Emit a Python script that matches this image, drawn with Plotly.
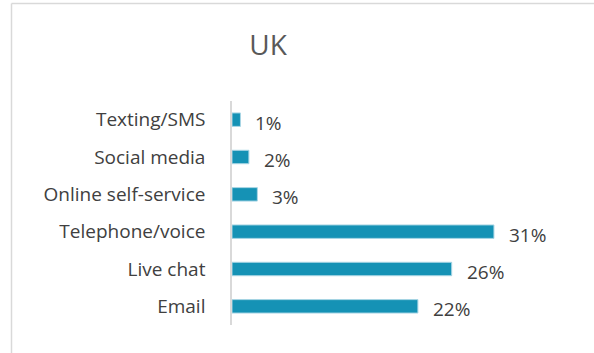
import plotly.graph_objects as go

categories = ["Email", "Live chat", "Telephone/voice", "Online self-service", "Social media", "Texting/SMS"]
values = [22, 26, 31, 3, 2, 1]
labels = ["22%", "26%", "31%", "3%", "2%", "1%"]
title = "UK"

L, T, W, H = 232, 101, 338, 224
FONT = "Open Sans"
fig = go.Figure(go.Bar(
    x=values, y=categories, orientation="h",
    marker=dict(color="#1592b5", line=dict(color="#a9d6e5", width=1)),
    width=0.36, hoverinfo="skip",
))
for v, c, t in zip(values, categories, labels):
    fig.add_annotation(x=v, y=c, text=t, showarrow=False, xanchor="left",
                       xshift=13, yshift=-3,
                       font=dict(family=FONT, size=19, color="#404040"))

def px_x(p):
    return (p - L) / W
def px_y(p):
    return (T + H - p) / H

# chart-area frame (top and left edges visible in the crop)
fig.add_shape(type="line", xref="paper", yref="paper",
              x0=px_x(11.5), x1=px_x(594), y0=px_y(3.5), y1=px_y(3.5),
              line=dict(color="#d9d9d9", width=1.5), layer="below")
fig.add_shape(type="line", xref="paper", yref="paper",
              x0=px_x(11.5), x1=px_x(11.5), y0=px_y(3.5), y1=px_y(353),
              line=dict(color="#d9d9d9", width=1.5), layer="below")

fig.update_layout(
    width=594, height=353,
    margin=dict(l=L, r=594 - L - W, t=T, b=353 - T - H),
    paper_bgcolor="white", plot_bgcolor="white",
    showlegend=False,
    title=dict(text=title, x=(268) / 594, xanchor="center", y=1 - 45 / 353, yanchor="middle",
               font=dict(family=FONT, size=28, color="#595959")),
    xaxis=dict(range=[0, 40], showgrid=False, zeroline=False, showticklabels=False, showline=False),
    yaxis=dict(categoryorder="array", categoryarray=categories, range=[-0.5, 5.5],
               showline=True, linecolor="#d9d9d9", linewidth=1.5, showgrid=False,
               ticks="", ticklabelstandoff=21,
               tickfont=dict(family=FONT, size=19, color="#404040")),
)
fig.write_html("out.html", config={"displayModeBar": False},
               post_script="document.body.style.margin='0';document.body.style.overflow='hidden';")
